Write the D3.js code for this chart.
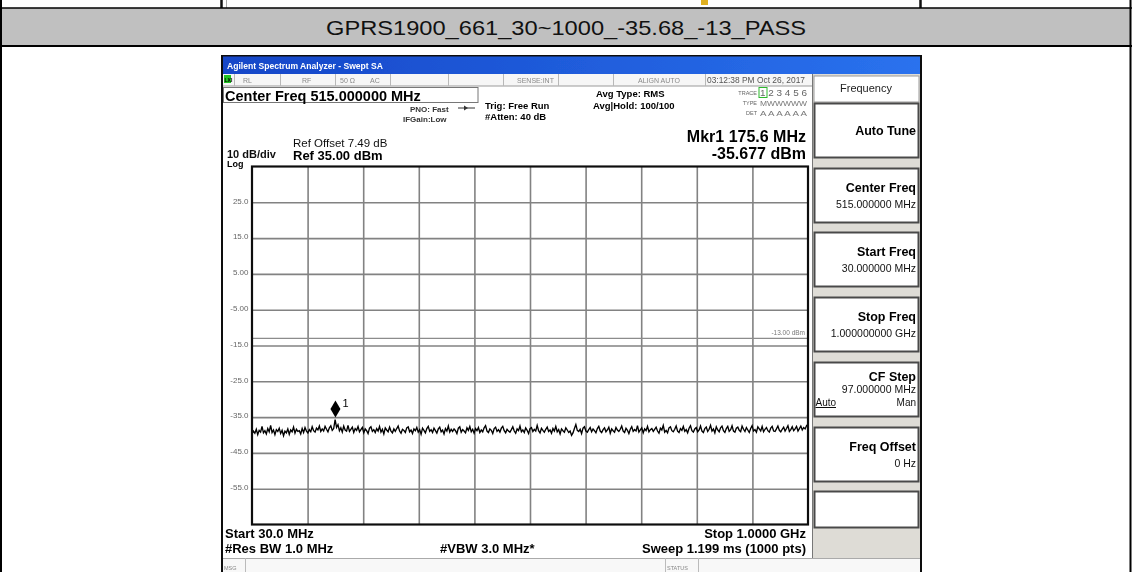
<!DOCTYPE html>
<html>
<head>
<meta charset="utf-8">
<script src="https://cdn.jsdelivr.net/npm/d3@7"></script>
<style>
  html, body { margin: 0; padding: 0; background: #fff; }
  svg { display: block; }
  text { font-family: "Liberation Sans", Arial, Helvetica, sans-serif; }
</style>
</head>
<body>
<svg id="chart" width="1132" height="572"></svg>
<script>
// ---- test-case caption ----
const captionText = "GPRS1900_661_30~1000_-35.68_-13_PASS";

// ---- sweep settings (MHz / dBm) ----
const startFreq = 30;
const stopFreq = 1000;
const refLevel = 35;
const dbPerDiv = 10;
const divisions = 10;
const displayLine = -13;
const displayLineLabel = "-13.00 dBm";

// ---- level axis ----
const levelTicks = [25, 15, 5, -5, -15, -25, -35, -45, -55];
const levelTickLabels = ["25.0", "15.0", "5.00", "-5.00", "-15.0", "-25.0", "-35.0", "-45.0", "-55.0"];

// ---- marker 1 ----
const markerFreq = 175.6;
const markerLevel = -35.677;

// ---- trace: one reading every 2.5 MHz from 30 MHz to 1000 MHz (dBm), 50 MHz per row ----
const traceStep = 2.5;
const traceLevels = [
  -39.8, -38.9, -39.5, -38.4, -39.9, -38.7, -39.2, -37.6, -39.4, -38.8, -39.7, -38.2, -39.1, -37.3, -39.3, -38.6, -39.9, -38.5, -39.0, -38.1,
  -39.6, -38.7, -40.2, -38.9, -39.4, -38.3, -39.8, -38.6, -39.1, -37.8, -39.5, -38.4, -39.0, -38.8, -39.7, -38.2, -39.3, -37.9, -38.9, -39.4,
  -38.5, -39.1, -37.7, -38.8, -39.2, -38.1, -38.6, -37.5, -39.0, -38.3, -38.9, -37.6, -38.4, -39.1, -38.0, -37.4, -38.7, -38.2, -35.68, -37.9,
  -37.1, -38.8, -38.0, -39.2, -37.5, -38.6, -38.9, -37.3, -39.0, -38.4, -37.8, -39.3, -38.2, -38.7, -37.6, -39.1, -38.5, -37.9, -39.4, -38.3,
  -38.8, -39.6, -38.1, -37.7, -39.0, -38.5, -39.3, -38.2, -38.9, -37.6, -39.2, -38.4, -39.7, -38.0, -38.6, -39.1, -37.8, -38.9, -39.4, -38.3,
  -39.0, -38.2, -37.5, -38.9, -39.5, -38.4, -38.7, -39.3, -38.0, -37.7, -39.1, -38.6, -39.6, -38.3, -38.8, -37.9, -39.2, -38.5, -39.8, -38.1,
  -38.7, -39.4, -38.2, -37.6, -39.0, -38.5, -39.3, -38.1, -38.8, -39.5, -38.3, -37.8, -39.1, -38.6, -39.7, -38.2, -38.9, -37.5, -39.2, -38.4,
  -39.0, -38.3, -38.8, -39.6, -38.1, -37.7, -39.2, -38.5, -38.9, -39.4, -38.0, -38.7, -37.6, -39.1, -38.4, -39.5, -38.2, -38.8, -37.9, -39.3,
  -38.6, -39.1, -38.0, -37.4, -38.9, -39.3, -38.3, -38.7, -39.6, -38.2, -37.8, -39.0, -38.5, -39.2, -38.1, -37.6, -38.8, -39.4, -38.4, -38.9,
  -39.2, -38.5, -37.7, -38.9, -39.5, -38.3, -38.8, -37.5, -39.1, -38.6, -39.3, -38.0, -38.7, -39.6, -38.2, -37.9, -39.0, -38.4, -38.9, -37.3,
  -38.8, -39.4, -38.1, -38.7, -39.2, -38.4, -37.8, -39.0, -38.6, -39.5, -38.2, -38.9, -37.6, -39.1, -38.5, -39.7, -38.3, -38.8, -39.2, -38.0,
  -38.6, -39.3, -38.9, -40.1, -39.4, -38.2, -37.1, -38.7, -39.0, -38.4, -39.6, -38.1, -37.7, -38.9, -39.2, -38.5, -37.9, -39.1, -38.3, -38.8,
  -39.4, -38.2, -37.6, -38.9, -39.3, -38.5, -38.0, -39.1, -38.6, -37.8, -39.5, -38.3, -38.8, -39.2, -37.9, -38.6, -39.0, -38.4, -37.5, -38.9,
  -39.3, -38.1, -38.7, -39.6, -38.4, -37.7, -39.0, -38.5, -38.9, -37.4, -39.2, -38.6, -38.0, -39.4, -38.3, -38.8, -37.6, -39.1, -38.5, -38.2,
  -39.0, -38.4, -37.8, -38.9, -39.5, -38.1, -38.6, -37.3, -39.2, -38.7, -39.4, -38.0, -37.7, -38.8, -39.1, -38.4, -37.5, -38.9, -39.3, -38.2,
  -38.7, -37.6, -39.0, -38.5, -39.4, -38.1, -37.4, -38.8, -39.2, -38.3, -37.9, -39.1, -38.6, -37.5, -38.9, -39.3, -38.2, -37.8, -39.0, -38.4,
  -37.3, -38.9, -38.3, -39.4, -37.7, -38.6, -39.1, -38.0, -37.5, -38.8, -39.3, -38.2, -37.6, -39.0, -38.5, -37.4, -38.9, -39.2, -38.1, -37.8,
  -38.7, -39.1, -37.5, -38.4, -39.0, -37.9, -38.6, -39.3, -38.2, -37.4, -38.9, -38.5, -39.2, -37.7, -38.3, -38.9, -37.6, -39.1, -38.4, -37.9,
  -38.8, -39.2, -38.1, -37.6, -38.9, -39.0, -38.3, -37.5, -38.7, -39.1, -38.4, -37.8, -38.9, -38.2, -37.4, -39.0, -38.5, -37.7, -38.8, -38.3,
  -37.6, -38.9, -38.2, -37.5, -38.6, -37.9, -38.3, -37.4, -37.0
];

// ---- instrument annotations ----
const windowTitle = "Agilent Spectrum Analyzer - Swept SA";
const statusCells = ["RL", "RF", "50 Ω", "AC", "SENSE:INT", "ALIGN AUTO"];
const timestamp = "03:12:38 PM Oct 26, 2017";
const centerFreqText = "Center Freq 515.000000 MHz";
const markerReadoutFreq = "Mkr1 175.6 MHz";
const markerReadoutLevel = "-35.677 dBm";
const startLabel = "Start 30.0 MHz";
const stopLabel = "Stop 1.0000 GHz";
const rbwLabel = "#Res BW 1.0 MHz";
const vbwLabel = "#VBW 3.0 MHz*";
const sweepLabel = "Sweep  1.199 ms (1000 pts)";

// ---- softkey menu ----
const menuTitle = "Frequency";
const softkeyLabels = ["Auto Tune", "Center Freq", "Start Freq", "Stop Freq", "CF Step", "Freq Offset", ""];
const softkeyValues = ["", "515.000000 MHz", "30.000000 MHz", "1.000000000 GHz", "97.000000 MHz", "0 Hz", ""];

const svg = d3.select("#chart");
const FONT = '"Liberation Sans", Arial, Helvetica, sans-serif';

function txt(parent, x, y, s, size, opts = {}) {
  const t = parent.append("text")
    .attr("x", x).attr("y", y)
    .attr("font-size", size)
    .attr("font-weight", opts.bold ? "bold" : "normal")
    .attr("fill", opts.fill || "#000")
    .attr("text-anchor", opts.anchor || "start")
    .text(s);
  if (opts.family) t.attr("font-family", opts.family);
  if (opts.len) t.attr("textLength", opts.len).attr("lengthAdjust", "spacingAndGlyphs");
  return t;
}

// ================= page table =================
const page = svg.append("g");
page.append("rect").attr("x", 0).attr("y", 0).attr("width", 1132).attr("height", 572).attr("fill", "#fff");
// bits of the row above
page.append("line").attr("x1", 221.5).attr("x2", 221.5).attr("y1", 0).attr("y2", 8).attr("stroke", "#111").attr("stroke-width", 2.5);
page.append("line").attr("x1", 226.5).attr("x2", 226.5).attr("y1", 0).attr("y2", 8).attr("stroke", "#aaa").attr("stroke-width", 1);
page.append("line").attr("x1", 920.5).attr("x2", 920.5).attr("y1", 0).attr("y2", 8).attr("stroke", "#111").attr("stroke-width", 2.5);
page.append("rect").attr("x", 701).attr("y", 0).attr("width", 7).attr("height", 5).attr("fill", "#e0b020");
// caption band
page.append("rect").attr("x", 1).attr("y", 8).attr("width", 1130).attr("height", 38).attr("fill", "#c0c0c0");
page.append("line").attr("x1", 0).attr("x2", 1132).attr("y1", 8).attr("y2", 8).attr("stroke", "#000").attr("stroke-width", 1.5);
page.append("line").attr("x1", 0).attr("x2", 1132).attr("y1", 46).attr("y2", 46).attr("stroke", "#000").attr("stroke-width", 2);
page.append("line").attr("x1", 1).attr("x2", 1).attr("y1", 0).attr("y2", 572).attr("stroke", "#000").attr("stroke-width", 2);
page.append("line").attr("x1", 1130.5).attr("x2", 1130.5).attr("y1", 0).attr("y2", 572).attr("stroke", "#000").attr("stroke-width", 2);
txt(page, 566, 35, captionText, 21, { anchor: "middle", fill: "#111", len: 480 });

// ================= instrument screen =================
const defs = svg.append("defs");
defs.append("filter").attr("id", "soft").attr("x", 0).attr("y", 0).attr("width", 1).attr("height", 1)
  .append("feGaussianBlur").attr("stdDeviation", 0.35);
defs.append("linearGradient").attr("id", "titlebar").attr("x1", 0).attr("x2", 1).attr("y1", 0).attr("y2", 0)
  .selectAll("stop").data([["0%", "#1546c8"], ["100%", "#2a72ee"]]).join("stop")
  .attr("offset", d => d[0]).attr("stop-color", d => d[1]);

const scr = svg.append("g").attr("filter", "url(#soft)");
scr.append("rect").attr("x", 221).attr("y", 55).attr("width", 701).attr("height", 520).attr("fill", "#111");
scr.append("rect").attr("x", 223).attr("y", 74).attr("width", 697).attr("height", 500).attr("fill", "#fff");

// window title bar
scr.append("rect").attr("x", 223).attr("y", 56.5).attr("width", 697).attr("height", 17.5).attr("fill", "url(#titlebar)");
txt(scr, 227, 69, windowTitle, 9.5, { bold: true, fill: "#fff", len: 156, family: '"DejaVu Sans", sans-serif' });

// status row
scr.append("rect").attr("x", 223).attr("y", 74).attr("width", 589).attr("height", 12).attr("fill", "#f6f6f6");
scr.append("line").attr("x1", 223).attr("x2", 812).attr("y1", 86).attr("y2", 86).attr("stroke", "#9a9a9a").attr("stroke-width", 1);
[234, 280, 335, 390, 448, 503, 558, 613, 705].forEach(x => {
  scr.append("line").attr("x1", x + 0.5).attr("x2", x + 0.5).attr("y1", 74).attr("y2", 86).attr("stroke", "#b8b8b8");
});
scr.append("rect").attr("x", 224).attr("y", 75).attr("width", 7).attr("height", 8).attr("fill", "#21c421");
txt(scr, 224.5, 82, "LXI", 5, { bold: true, fill: "#000" });
const statusX = [243, 302, 340, 370, 517, 638];
statusCells.forEach((s, i) => txt(scr, statusX[i], 83, s, 7, { fill: "#8a8a8a" }));
txt(scr, 707, 83, timestamp, 8.4, { fill: "#555", len: 98 });

// center frequency box
scr.append("rect").attr("x", 223.5).attr("y", 87.5).attr("width", 254.5).attr("height", 15).attr("fill", "#fff")
  .attr("stroke", "#777").attr("stroke-width", 1);
txt(scr, 225, 100.5, centerFreqText, 14.5, { bold: true });

// acquisition settings
txt(scr, 410, 111.5, "PNO: Fast", 8, { bold: true, fill: "#333" });
txt(scr, 403, 121.5, "IFGain:Low", 8, { bold: true, fill: "#333" });
scr.append("line").attr("x1", 458).attr("x2", 475).attr("y1", 108).attr("y2", 108).attr("stroke", "#333").attr("stroke-width", 1);
scr.append("path").attr("d", "M464,105.5 L468,108 L464,110.5 Z").attr("fill", "#333");
txt(scr, 485, 109, "Trig: Free Run", 9.5, { bold: true });
txt(scr, 485, 120, "#Atten: 40 dB", 9.5, { bold: true });
txt(scr, 596, 96.5, "Avg Type: RMS", 9.5, { bold: true });
txt(scr, 593, 108.5, "Avg|Hold: 100/100", 9.5, { bold: true });

// trace table
txt(scr, 757, 95, "TRACE", 5.5, { fill: "#666", anchor: "end" });
txt(scr, 757, 105, "TYPE", 5.5, { fill: "#666", anchor: "end" });
txt(scr, 757, 115, "DET", 5.5, { fill: "#666", anchor: "end" });
scr.append("rect").attr("x", 759).attr("y", 87.5).attr("width", 8).attr("height", 10).attr("fill", "none").attr("stroke", "#2db82d");
txt(scr, 760, 96, "1 2 3 4 5 6", 9, { fill: "#666", len: 47 });
txt(scr, 760, 105.5, "MWWWWW", 7, { fill: "#777", len: 47 });
txt(scr, 760, 115.5, "A A A A A A", 7.5, { fill: "#777", len: 47 });

// marker readout
txt(scr, 806, 141.5, markerReadoutFreq, 16, { bold: true, anchor: "end" });
txt(scr, 806, 158.5, markerReadoutLevel, 16, { bold: true, anchor: "end" });

// reference info
txt(scr, 293, 147, "Ref Offset 7.49 dB", 11.5, { fill: "#111" });
txt(scr, 293, 160, "Ref 35.00 dBm", 13, { bold: true });
txt(scr, 227, 157.5, "10 dB/div", 11, { bold: true, fill: "#111" });
txt(scr, 227, 167, "Log", 9, { bold: true });

// ================= graticule =================
const x = d3.scaleLinear().domain([startFreq, stopFreq]).range([252, 808]);
const yTop = refLevel, yBottom = refLevel - dbPerDiv * divisions;
const y = d3.scaleLinear().domain([yBottom, yTop]).range([524.5, 166.5]);

const plot = scr.append("g");
plot.append("rect").attr("x", x(startFreq)).attr("y", y(yTop)).attr("width", x(stopFreq) - x(startFreq))
  .attr("height", y(yBottom) - y(yTop)).attr("fill", "#fff");

const freqDivs = d3.range(1, divisions).map(i => startFreq + i * (stopFreq - startFreq) / divisions);
const xGrid = plot.append("g").attr("transform", `translate(0,${y(yBottom)})`)
  .call(d3.axisBottom(x).tickValues(freqDivs).tickSize(-(y(yBottom) - y(yTop))).tickFormat(""));
xGrid.select(".domain").remove();
xGrid.selectAll("line").attr("stroke", "#828282").attr("stroke-width", 1.6);

const yGrid = plot.append("g").attr("transform", `translate(${x(startFreq)},0)`)
  .call(d3.axisLeft(y).tickValues(levelTicks).tickSize(-(x(stopFreq) - x(startFreq))).tickPadding(4)
    .tickFormat((d, i) => levelTickLabels[i]));
yGrid.select(".domain").remove();
yGrid.selectAll("line").attr("stroke", "#828282").attr("stroke-width", 1.6);
yGrid.selectAll("text").attr("font-family", FONT).attr("font-size", 8).attr("fill", "#666")
  .attr("dy", "0.1em").attr("x", -3.5);

// display line
plot.append("line").attr("x1", x(startFreq)).attr("x2", x(stopFreq))
  .attr("y1", y(displayLine)).attr("y2", y(displayLine)).attr("stroke", "#8c8c8c").attr("stroke-width", 1.2);
txt(plot, 805, y(displayLine) - 3.5, displayLineLabel, 6.5, { anchor: "end", fill: "#777" });

// trace
const traceData = traceLevels.map((v, i) => ({ f: startFreq + i * traceStep, v }));
plot.append("path").datum(traceData)
  .attr("fill", "none").attr("stroke", "#000").attr("stroke-width", 1.35).attr("stroke-linejoin", "miter")
  .attr("d", d3.line().x(d => x(d.f)).y(d => y(d.v)));

// graticule frame
plot.append("rect").attr("x", x(startFreq)).attr("y", y(yTop)).attr("width", x(stopFreq) - x(startFreq))
  .attr("height", y(yBottom) - y(yTop)).attr("fill", "none").attr("stroke", "#111").attr("stroke-width", 2.2);

// marker diamond
const mx = x(markerFreq), my = y(markerLevel);
plot.append("path")
  .attr("d", `M${mx},${my - 2} L${mx + 5},${my - 10.5} L${mx},${my - 19} L${mx - 5},${my - 10.5} Z`)
  .attr("fill", "#000");
txt(plot, mx + 7, my - 13, "1", 11, { fill: "#000" });

// ================= bottom annotations =================
txt(scr, 225, 538, startLabel, 13, { bold: true });
txt(scr, 225, 552.5, rbwLabel, 13, { bold: true });
txt(scr, 440, 552.5, vbwLabel, 13, { bold: true });
txt(scr, 806, 538, stopLabel, 13, { bold: true, anchor: "end" });
txt(scr, 806, 552.5, sweepLabel, 13, { bold: true, anchor: "end" });

// message / status bar
scr.append("rect").attr("x", 223).attr("y", 558).attr("width", 697).attr("height", 16).attr("fill", "#f8f8f8");
scr.append("line").attr("x1", 223).attr("x2", 920).attr("y1", 558.5).attr("y2", 558.5).attr("stroke", "#aaa");
[245, 665, 698].forEach(xx => scr.append("line").attr("x1", xx + 0.5).attr("x2", xx + 0.5).attr("y1", 558).attr("y2", 572).attr("stroke", "#bbb"));
txt(scr, 224, 570, "MSG", 5.5, { fill: "#888" });
txt(scr, 667, 570, "STATUS", 5.5, { fill: "#888" });

// ================= softkey panel =================
const panel = scr.append("g");
panel.append("rect").attr("x", 812).attr("y", 74).attr("width", 108).attr("height", 484).attr("fill", "#dedcd6");
panel.append("line").attr("x1", 812.5).attr("x2", 812.5).attr("y1", 74).attr("y2", 558).attr("stroke", "#777");
panel.append("rect").attr("x", 814).attr("y", 76).attr("width", 105).attr("height", 26).attr("fill", "#fff")
  .attr("stroke", "#999").attr("stroke-width", 1);
txt(panel, 866, 92, menuTitle, 11, { anchor: "middle", fill: "#222" });

const keyTops = [103, 168, 232, 297, 362, 427, 491];
softkeyLabels.forEach((label, i) => {
  const top = keyTops[i];
  const h = i === softkeyLabels.length - 1 ? 36 : 54;
  panel.append("rect").attr("x", 814.5).attr("y", top + 0.5).attr("width", 104).attr("height", h)
    .attr("fill", "#fff").attr("stroke", "#4a4a4a").attr("stroke-width", 2);
  if (!label) return;
  const value = softkeyValues[i];
  if (label === "CF Step") {
    txt(panel, 916, top + 18.5, label, 12.5, { bold: true, anchor: "end" });
    txt(panel, 916, top + 30.5, value, 10.5, { anchor: "end", fill: "#111" });
    txt(panel, 815.5, top + 44, "Auto", 10, { fill: "#111" });
    panel.append("line").attr("x1", 815.5).attr("x2", 836).attr("y1", top + 45.5).attr("y2", top + 45.5).attr("stroke", "#111");
    txt(panel, 916, top + 44, "Man", 10, { anchor: "end", fill: "#111" });
  } else if (value) {
    txt(panel, 916, top + 24, label, 12.5, { bold: true, anchor: "end" });
    txt(panel, 916, top + 39.5, value, 10.5, { anchor: "end", fill: "#111" });
  } else {
    txt(panel, 916, top + 31.5, label, 12.5, { bold: true, anchor: "end" });
  }
});
</script>
</body>
</html>
